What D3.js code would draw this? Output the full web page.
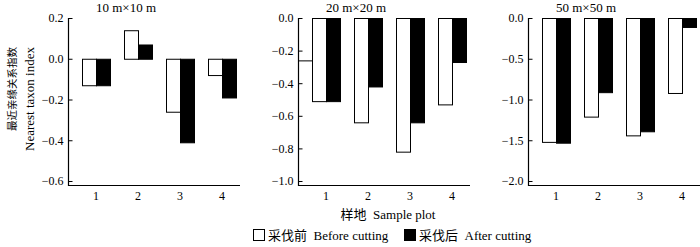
<!DOCTYPE html>
<html>
<head>
<meta charset="utf-8">
<script src="https://cdn.jsdelivr.net/npm/d3@7"></script>
<style>
  body { margin: 0; background: #fff; }
  svg { display: block; font-family: "Liberation Serif", "Noto Sans CJK SC", serif; }
</style>
</head>
<body>
<svg id="chart" width="700" height="247"></svg>
<script>
const plots = ["1", "2", "3", "4"];
const panelTitles = ["10 m×10 m", "20 m×20 m", "50 m×50 m"];
const before10 = [-0.13, 0.14, -0.26, -0.08];
const after10 = [-0.13, 0.07, -0.41, -0.19];
const before20 = [-0.51, -0.64, -0.82, -0.53];
const after20 = [-0.51, -0.42, -0.64, -0.27];
const before50 = [-1.52, -1.21, -1.44, -0.92];
const after50 = [-1.53, -0.91, -1.39, -0.11];
const yTicks10 = [0.2, 0.0, -0.2, -0.4, -0.6];
const yTicks20 = [0.0, -0.2, -0.4, -0.6, -0.8, -1.0];
const yTicks50 = [0.0, -0.5, -1.0, -1.5, -2.0];
// stray outline left of the first bar in the 20 m panel of the original figure
const stray20 = -0.26;

const panels = [
  { title: panelTitles[0], before: before10, after: after10, ticks: yTicks10, left: 68 },
  { title: panelTitles[1], before: before20, after: after20, ticks: yTicks20, left: 298, stray: stray20 },
  { title: panelTitles[2], before: before50, after: after50, ticks: yTicks50, left: 528 }
];

const yTop = 18, tickBottom = 181, axisBottom = 185, axisWidth = 172;
const svg = d3.select("#chart");

const x = d3.scaleBand().domain(plots).range([0, 182]).paddingInner(1 / 3).paddingOuter(1 / 3);
const barW = x.bandwidth() / 2;

panels.forEach((p) => {
  const g = svg.append("g").attr("transform", `translate(${p.left},0)`);
  const y = d3.scaleLinear()
    .domain([d3.max(p.ticks), d3.min(p.ticks)])
    .range([yTop, tickBottom]);

  // stray line
  if (p.stray !== undefined) {
    g.append("path")
      .attr("d", `M0,${y(p.stray) + 0.5}H${x("1")}`)
      .attr("stroke", "#000")
      .attr("fill", "none");
  }

  // bars
  plots.forEach((k, i) => {
    const b = p.before[i], a = p.after[i];
    g.append("rect")
      .attr("x", x(k) + 0.5)
      .attr("y", Math.min(y(0), y(b)) + 0.5)
      .attr("width", barW)
      .attr("height", Math.abs(y(b) - y(0)))
      .attr("fill", "#fff")
      .attr("stroke", "#000")
      .attr("stroke-width", 1);
    g.append("rect")
      .attr("x", x(k) + barW + 0.5)
      .attr("y", Math.min(y(0), y(a)) + 0.5)
      .attr("width", barW)
      .attr("height", Math.abs(y(a) - y(0)))
      .attr("fill", "#000")
      .attr("stroke", "#000")
      .attr("stroke-width", 1);
  });

  // y axis
  const ya = g.append("g")
    .attr("transform", "translate(0.5,0)")
    .call(d3.axisLeft(y).tickValues(p.ticks).tickFormat(d3.format(".1f")).tickSize(-4).tickPadding(5));
  ya.select(".domain").remove();
  ya.selectAll("text").attr("font-size", 12).attr("font-family", "Liberation Serif");
  ya.selectAll("line").attr("stroke", "#000");

  g.append("path")
    .attr("d", `M0.5,${yTop}V${axisBottom + 0.5}H${axisWidth}`)
    .attr("stroke", "#000")
    .attr("stroke-width", 1.2)
    .attr("fill", "none");

  // x tick labels
  plots.forEach((k) => {
    g.append("text")
      .attr("x", x(k) + x.bandwidth() / 2)
      .attr("y", 200)
      .attr("text-anchor", "middle")
      .attr("font-size", 12)
      .text(k);
  });

  // title
  g.append("text")
    .attr("x", 58)
    .attr("y", 12)
    .attr("text-anchor", "middle")
    .attr("font-size", 13)
    .text(p.title);
});

// y axis title
svg.append("text")
  .attr("transform", "translate(16,47) rotate(-90)")
  .attr("text-anchor", "end")
  .attr("font-size", 10.5)
  .attr("font-family", "Noto Sans CJK SC")
  .text("最近亲缘关系指数");
svg.append("text")
  .attr("transform", "translate(34,47) rotate(-90)")
  .attr("text-anchor", "end")
  .attr("font-size", 13)
  .text("Nearest taxon index");

// x axis title
const xt = svg.append("text")
  .attr("x", 388)
  .attr("y", 219)
  .attr("text-anchor", "middle")
  .attr("font-size", 13);
xt.append("tspan").attr("font-family", "Noto Sans CJK SC").text("样地");
xt.append("tspan").text("\u00a0 Sample plot");

// legend
const legendItems = [
  { zh: "采伐前", en: "Before cutting", fill: "#fff", x: 253 },
  { zh: "采伐后", en: "After cutting", fill: "#000", x: 404 }
];
legendItems.forEach((d) => {
  const lg = svg.append("g").attr("transform", `translate(${d.x},229)`);
  lg.append("rect")
    .attr("x", 0.5).attr("y", 0.5)
    .attr("width", 11).attr("height", 11)
    .attr("fill", d.fill)
    .attr("stroke", "#000");
  const t = lg.append("text")
    .attr("x", 15)
    .attr("y", 10.5)
    .attr("font-size", 13);
  t.append("tspan").attr("font-family", "Noto Sans CJK SC").text(d.zh);
  t.append("tspan").text("\u00a0 " + d.en);
});
</script>
</body>
</html>
